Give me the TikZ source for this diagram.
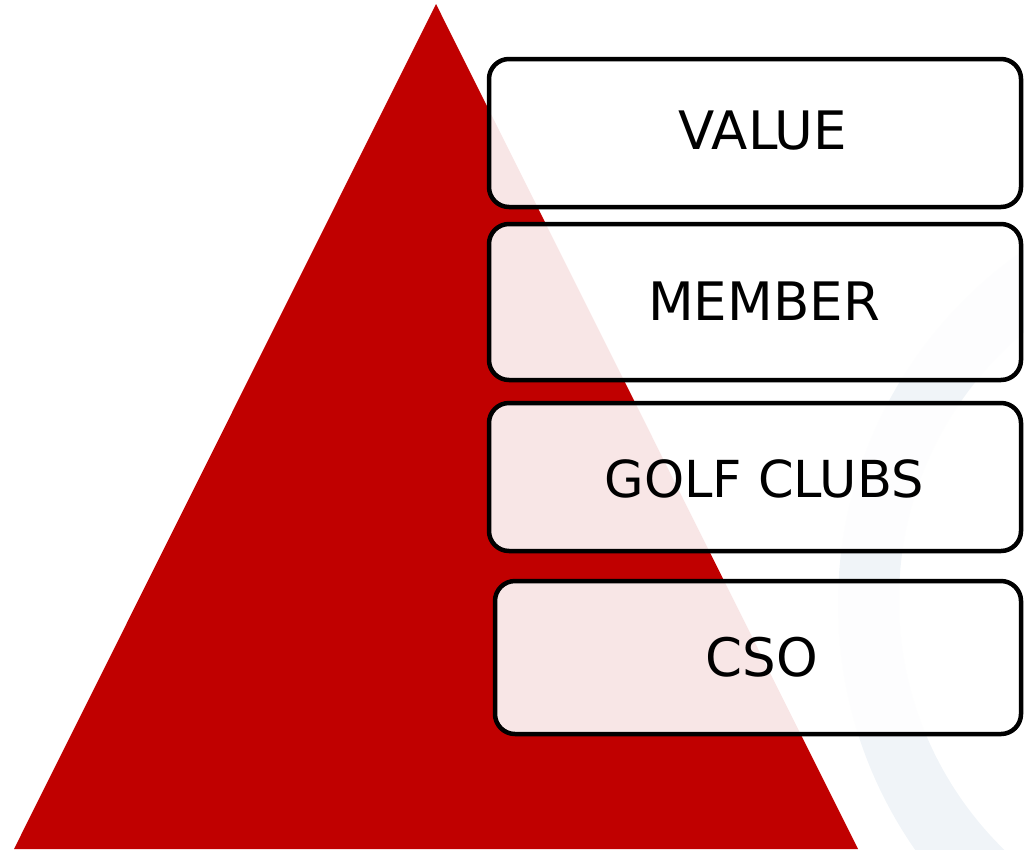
\documentclass[tikz,border=0pt]{standalone}
\usepackage{fontspec}
\setmainfont{DejaVu Sans}
\definecolor{pyrred}{RGB}{192,0,0}
\definecolor{ringgray}{RGB}{240,244,248}
\begin{document}
\begin{tikzpicture}[x=1pt,y=-1pt,
  box/.style={draw=black,line width=4.5pt,rounded corners=20pt,fill=white,fill opacity=0.9,draw opacity=1,inner sep=0pt,outer sep=0pt},
  lbl/.style={text=black,inner sep=0pt,font=\fontsize{53}{60}\selectfont}]
\useasboundingbox (0,0) rectangle (1024,849);
\begin{scope}
\clip (0,0) rectangle (1024,849);
\fill[ringgray,even odd rule] (1268,604) circle[radius=430] (1248,600) circle[radius=349];
\fill[pyrred] (436,4) -- (14,849) -- (858,849) -- cycle;
\end{scope}
\node[box,minimum width=532pt,minimum height=148pt] (b1) at (755,133) {};
\node[box,minimum width=532pt,minimum height=156pt] (b2) at (755,302) {};
\node[box,minimum width=532pt,minimum height=148pt] (b3) at (755,477) {};
\node[box,minimum width=526pt,minimum height=153pt] (b4) at (758,657.5) {};
\node[lbl] (t1) at (763,131) {VALUE};
\node[lbl] (t2) at (764,301) {MEMBER};
\node[lbl,font=\fontsize{51}{60}\selectfont] (t3) at (764,479) {GOLF CLUBS};
\node[lbl] (t4) at (762,657) {CSO};
\end{tikzpicture}
\end{document}
